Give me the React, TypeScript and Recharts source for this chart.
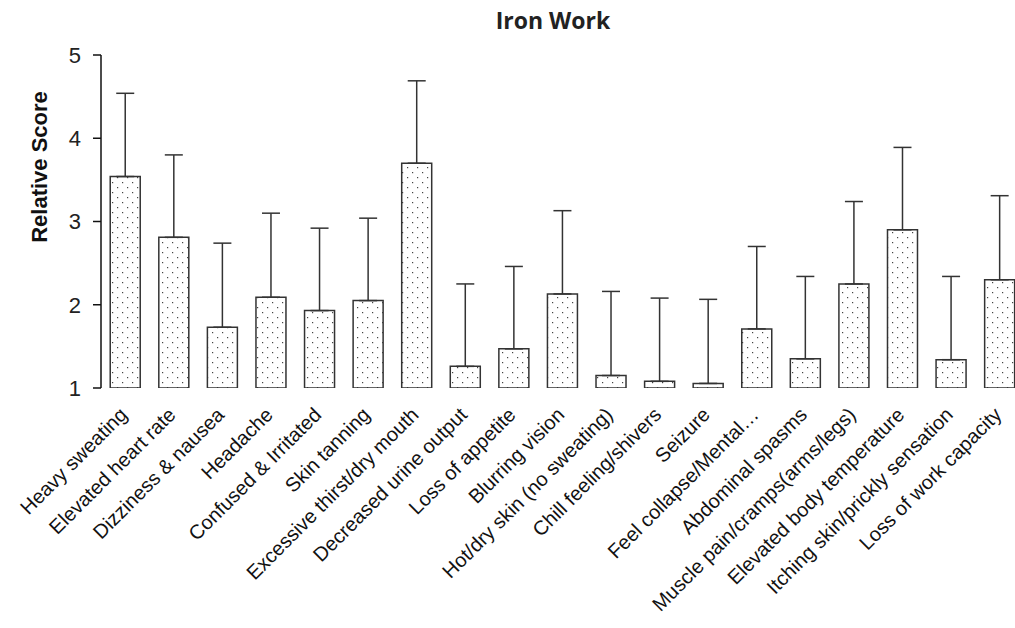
import React from 'react';
import { BarChart, Bar, XAxis, YAxis, ErrorBar } from 'recharts';

// symptom categories, left to right
const CATEGORIES = [
  'Heavy sweating',
  'Elevated heart rate',
  'Dizziness & nausea',
  'Headache',
  'Confused & Irritated',
  'Skin tanning',
  'Excessive thirst/dry mouth',
  'Decreased urine output',
  'Loss of appetite',
  'Blurring vision',
  'Hot/dry skin (no sweating)',
  'Chill feeling/shivers',
  'Seizure',
  'Feel collapse/Mental…',
  'Abdominal spasms',
  'Muscle pain/cramps(arms/legs)',
  'Elevated body temperature',
  'Itching skin/prickly sensation',
  'Loss of work capacity',
];

// mean relative score
const SCORES = [
  3.54, 2.81, 1.73, 2.09, 1.93, 2.05, 3.7, 1.26, 1.47, 2.13,
  1.15, 1.08, 1.055, 1.71, 1.35, 2.25, 2.9, 1.34, 2.3,
];

// upper error (score + err = top of whisker)
const ERRORS = [
  1.0, 0.99, 1.01, 1.01, 0.99, 0.99, 0.99, 0.99, 0.99, 1.0,
  1.01, 1.0, 1.01, 0.99, 0.99, 0.99, 0.99, 1.0, 1.01,
];

const Y_TICKS = [1, 2, 3, 4, 5];
// category boundaries for the tick marks
const EDGE_TICKS = [0, 1, 2, 3, 4, 5, 6, 7, 8, 9, 10, 11, 12, 13, 14, 15, 16, 17, 18, 19];

const data = CATEGORIES.map((name, i) => ({
  name,
  score: SCORES[i],
  err: [0, ERRORS[i]],
}));

const FONT = '"Liberation Sans", Arial, sans-serif';

const CategoryTick = ({ x, y, payload }: any) => {
  const ax = x + 3;
  const ay = y + 28;
  return (
    <text
      x={ax}
      y={ay}
      transform={`rotate(-45, ${ax}, ${ay})`}
      textAnchor="end"
      fontSize={20}
      fontFamily={FONT}
      fill="#111"
    >
      {payload.value}
    </text>
  );
};

export default function App() {
  return (
    <div
      style={{
        position: 'absolute',
        left: 0,
        top: 0,
        width: 1015,
        height: 628,
        overflow: 'hidden',
        background: '#fff',
      }}
    >
      <div
        style={{
          position: 'absolute',
          left: 0,
          width: 1106,
          top: 4,
          textAlign: 'center',
          fontFamily: '"Open Sans", sans-serif',
          fontWeight: 700,
          fontSize: 23,
          color: '#222',
        }}
      >
        Iron Work
      </div>
      <div
        style={{
          position: 'absolute',
          left: 40,
          top: 167,
          transform: 'translate(-50%, -50%) rotate(-90deg)',
          fontFamily: FONT,
          fontWeight: 700,
          fontSize: 22,
          color: '#111',
          whiteSpace: 'nowrap',
        }}
      >
        Relative Score
      </div>
      <BarChart
        width={1030}
        height={628}
        data={data}
        margin={{ top: 55, right: 6, left: 0, bottom: 0 }}
        barCategoryGap="19%"
      >
        <defs>
          <pattern id="dots" width="10" height="10" patternUnits="userSpaceOnUse">
            <rect width="10" height="10" fill="#fff" />
            <rect x="2" y="2" width="1.2" height="1.2" fill="#444" />
            <rect x="7" y="7" width="1.2" height="1.2" fill="#444" />
          </pattern>
        </defs>
        <XAxis
          xAxisId="edge"
          type="number"
          domain={[0, 19]}
          ticks={EDGE_TICKS}
          allowDataOverflow
          tick={false}
          tickSize={7}
          height={0}
          axisLine={{ stroke: '#111', strokeWidth: 1.5 }}
          tickLine={{ stroke: '#111', strokeWidth: 1.5 }}
        />
        <XAxis
          xAxisId="cat"
          dataKey="name"
          interval={0}
          height={240}
          axisLine={false}
          tickLine={false}
          tickSize={0}
          tickMargin={0}
          tick={<CategoryTick />}
        />
        <YAxis
          domain={[1, 5]}
          ticks={Y_TICKS}
          allowDataOverflow
          width={101}
          tickSize={8}
          tickMargin={12}
          axisLine={{ stroke: '#111', strokeWidth: 1.5 }}
          tickLine={{ stroke: '#111', strokeWidth: 1.5 }}
          tick={{ fontSize: 22, fontFamily: FONT, fill: '#222' }}
        />
        <Bar
          xAxisId="cat"
          dataKey="score"
          fill="url(#dots)"
          stroke="#333"
          strokeWidth={1.5}
          isAnimationActive={false}
        >
          <ErrorBar dataKey="err" width={9} stroke="#333" strokeWidth={1.5} direction="y" />
        </Bar>
      </BarChart>
    </div>
  );
}
